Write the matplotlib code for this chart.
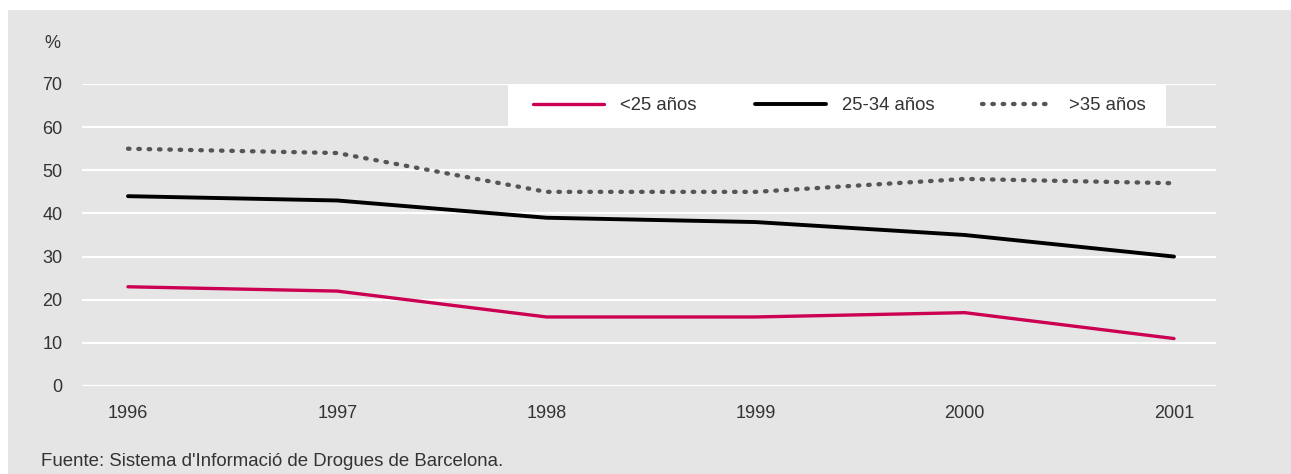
import matplotlib
matplotlib.use("Agg")
import matplotlib.pyplot as plt
from matplotlib.patches import Rectangle
from matplotlib.legend import Legend

years = ["1996", "1997", "1998", "1999", "2000", "2001"]
menores_25 = [23, 22, 16, 16, 17, 11]
de_25_34 = [44, 43, 39, 38, 35, 30]
mayores_35 = [55, 54, 45, 45, 48, 47]
series_labels = ["<25 años", "25-34 años", ">35 años"]
yticks = [0, 10, 20, 30, 40, 50, 60, 70]

plt.rcParams['font.family'] = ['Liberation Sans', 'DejaVu Sans']
W, H = 1291, 474
fig = plt.figure(figsize=(W / 100, H / 100), dpi=100)
fig.patch.set_facecolor('white')
fig.patches.append(Rectangle((8 / W, 0), 1 - 8 / W, (H - 10) / H,
                             transform=fig.transFigure, facecolor='#e5e5e5',
                             edgecolor='none', zorder=-5))

AX_L, AX_R, AX_T, AX_B = 82, 1216, 84, 386
ax = fig.add_axes([AX_L / W, (H - AX_B) / H, (AX_R - AX_L) / W, (AX_B - AX_T) / H])
ax.set_zorder(1)
ax.set_facecolor('none')
x = list(range(len(years)))
ax.set_xlim(-46 / 209.2, 5 + 42 / 209.2)
ax.set_ylim(0, 70)

for v in yticks:
    ax.axhline(v, color='white', lw=1.6, zorder=1)

txt = '#333333'
l1, = ax.plot(x, menores_25, color='#cc0052', lw=2.4, solid_capstyle='round', zorder=3)
l2, = ax.plot(x, de_25_34, color='#000000', lw=2.8, solid_capstyle='round', zorder=3)
l3, = ax.plot(x, mayores_35, color='#555555', lw=3.1, linestyle=(0, (0.35, 2.05)),
              dash_capstyle='round', zorder=3)

for s in ax.spines.values():
    s.set_visible(False)
ax.set_yticks(yticks)
ax.set_yticklabels([str(v) for v in yticks])
ax.set_xticks(x)
ax.set_xticklabels(years)
ax.tick_params(axis='both', length=0, labelsize=13, colors=txt)
ax.tick_params(axis='y', pad=14)
ax.tick_params(axis='x', pad=14)

fig.text(52 / W, (H - 44) / H, "%", ha='center', va='center',
         fontsize=13, color=txt)

# legend box
lx0 = (508 - AX_L) / (AX_R - AX_L)
lw_ = (1166 - 508) / (AX_R - AX_L)
lh = (128 - AX_T) / (AX_B - AX_T)
ax.add_patch(Rectangle((lx0, 1 - lh), lw_, lh, transform=ax.transAxes,
                       facecolor='white', edgecolor='none', zorder=2, clip_on=False))
handle_x = [533, 755, 982]
for h, lab, hx in zip([l1, l2, l3], series_labels, handle_x):
    leg = Legend(ax, [h], [lab], loc='center left',
                 bbox_to_anchor=((hx - AX_L) / (AX_R - AX_L), 1 - lh / 2),
                 frameon=False, fontsize=13.3, handlelength=3.85, handletextpad=0.85,
                 borderpad=0, borderaxespad=0)
    for t in leg.get_texts():
        t.set_color(txt)
    leg.set_zorder(5)
    ax.add_artist(leg)

fig.text(41 / W, (H - 461) / H, "Fuente: Sistema d'Informació de Drogues de Barcelona.",
         ha='left', va='center', fontsize=13.4, color=txt)

fig.savefig('out.png', dpi=100, facecolor=fig.get_facecolor())
